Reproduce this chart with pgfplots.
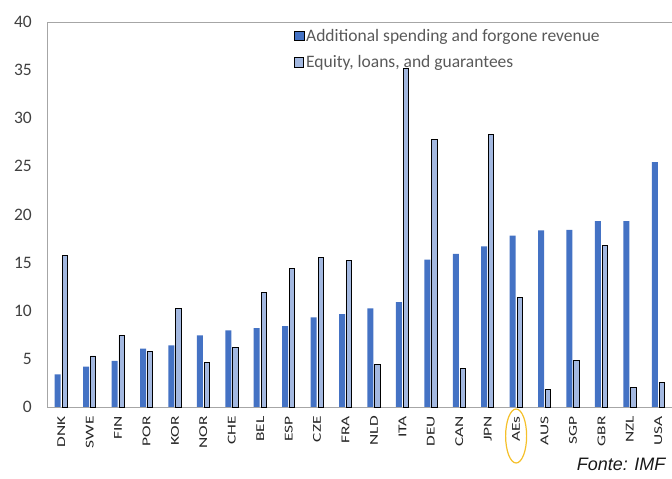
\documentclass[border=0pt]{standalone}
\usepackage{fontspec}
\setmainfont{Carlito}
\newfontfamily\arialfont{Liberation Sans}
\newfontfamily\xlabfont[FakeStretch=1.45]{Carlito}
\usepackage{pgfplots}
\pgfplotsset{compat=1.18}
\definecolor{barblue}{HTML}{4472C4}
\definecolor{barlight}{HTML}{A3B8E0}
\definecolor{gold}{HTML}{F5C02A}
\begin{document}
\begin{tikzpicture}
\begin{axis}[
  at={(47pt,72pt)}, anchor=south west,
  scale only axis, width=625.5pt, height=385pt,
  xmin=-0.5, xmax=21.5, ymin=0, ymax=40,
  ytick={0,5,...,40},
  xtick={0,...,21},
  xticklabels={DNK,SWE,FIN,POR,KOR,NOR,CHE,BEL,ESP,CZE,FRA,NLD,ITA,DEU,CAN,JPN,AEs,AUS,SGP,GBR,NZL,USA},
  /pgf/number format/assume math mode=true,
  x tick label style={rotate=90, anchor=east, inner sep=0pt, font=\xlabfont\fontsize{12}{14}\selectfont, text=black!85},
  y tick label style={anchor=east, inner sep=0pt, font=\fontsize{17.5}{20}\selectfont, text=black!75},
  xticklabel shift=9pt,
  yticklabel shift=15pt,
  major tick length=0pt, tick style={draw=none},
  axis line style={draw=black!35, line width=0.8pt},
  ybar, bar width=6pt,
  every axis plot post/.append style={legend image code/.code={\draw[##1] (0.4pt,-4.6pt) rectangle (9.6pt,4.6pt);}},
  clip=false,
  legend style={at={(0.390,0.993)}, anchor=north west, draw=none, fill=none,
    font=\fontsize{17.5}{20}\selectfont, text=black!65,
    nodes={inner sep=2pt}, row sep=9pt},
  legend cell align=left,
]
\addplot[fill=barblue, draw=none, bar shift=-3.5pt] coordinates {
(0,3.4) (1,4.2) (2,4.8) (3,6.06) (4,6.4) (5,7.45) (6,7.97) (7,8.2) (8,8.4) (9,9.3)
(10,9.66) (11,10.25) (12,10.9) (13,15.3) (14,15.9) (15,16.7) (16,17.8) (17,18.35)
(18,18.4) (19,19.3) (20,19.3) (21,25.45)};
\addplot[fill=barlight, draw=black, line width=0.8pt, bar width=5.2pt, bar shift=3.5pt] coordinates {
(0,15.7) (1,5.3) (2,7.45) (3,5.8) (4,10.2) (5,4.6) (6,6.2) (7,11.9) (8,14.4) (9,15.5)
(10,15.2) (11,4.4) (12,35.2) (13,27.8) (14,4.0) (15,28.3) (16,11.4) (17,1.87)
(18,4.8) (19,16.8) (20,2.0) (21,2.55)};
\legend{Additional spending and forgone revenue,{Equity, loans, and guarantees}}
\draw[gold, line width=1.2pt] (axis cs:16,0) ++(0pt,-29pt) ellipse [x radius=10.5pt, y radius=27pt];
\end{axis}
\node[anchor=base east, font=\arialfont\itshape\fontsize{18}{20}\selectfont, text=black!90] at (669pt,8pt) {Fonte: IMF};
\pgfresetboundingbox
\path (0,0) rectangle (672pt,479pt);
\end{tikzpicture}
\end{document}
